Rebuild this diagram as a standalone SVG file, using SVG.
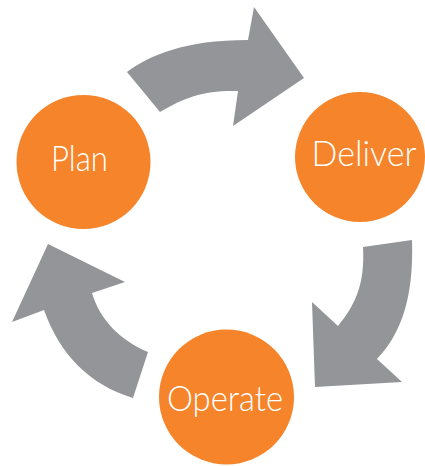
<svg xmlns="http://www.w3.org/2000/svg" width="425" height="466" viewBox="0 0 425 466">
<style>
.node{fill:#F5842A}
.lbl{fill:#ffffff;font-family:Lato,"Liberation Sans",Arial,sans-serif;font-weight:300;font-size:36px;text-anchor:middle}
.arrow{fill:#939598}
</style>
<rect width="425" height="466" fill="#ffffff"/>
<g id="connectors">
<path class="arrow" d="M127,72 C150,55 185,40 248,40 L254,7 L304,78 L233,126 L238,91 C205,90 185,97 160,112 Z"/>
<path class="arrow" d="M363,247 L412,240 C414,300 400,335 377,359 L402,382 L315,387 L312,302 L338,326 C355,305 365,285 363,247 Z"/>
<path class="arrow" d="M133,398 L148,352 C120,340 100,320 92,293 L125,282 L48,244 L12,322 L44,310 C60,355 90,385 133,398 Z"/>
</g>
<g id="plan">
<circle class="node" cx="83.5" cy="162" r="67"/>
<text class="lbl" x="79.5" y="171" textLength="57" lengthAdjust="spacingAndGlyphs">Plan</text>
</g>
<g id="deliver">
<circle class="node" cx="360" cy="157" r="65"/>
<text class="lbl" x="364" y="166" textLength="105" lengthAdjust="spacingAndGlyphs">Deliver</text>
</g>
<g id="operate">
<circle class="node" cx="226.5" cy="397" r="67.5"/>
<text class="lbl" x="225" y="411" textLength="116" lengthAdjust="spacingAndGlyphs">Operate</text>
</g>
</svg>
